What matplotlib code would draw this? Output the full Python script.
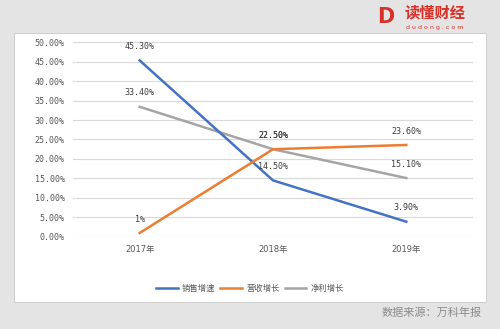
import matplotlib
matplotlib.use("Agg")
import matplotlib.pyplot as plt
from matplotlib.patches import Rectangle

plt.rcParams['font.family'] = ['DejaVu Sans', 'Noto Sans CJK SC']

years = ["2017年", "2018年", "2019年"]
sales = [45.3, 14.5, 3.9]
revenue = [1.0, 22.5, 23.6]
profit = [33.4, 22.5, 15.1]
sales_lbl = ["45.30%", "14.50%", "3.90%"]
revenue_lbl = ["1%", "22.50%", "23.60%"]
profit_lbl = ["33.40%", "22.50%", "15.10%"]
yticks = [0, 5, 10, 15, 20, 25, 30, 35, 40, 45, 50]
ytick_lbl = ["0.00%", "5.00%", "10.00%", "15.00%", "20.00%", "25.00%",
             "30.00%", "35.00%", "40.00%", "45.00%", "50.00%"]
names = ["销售增速", "营收增长", "净利增长"]

fig = plt.figure(figsize=(5, 3.29), dpi=100)
fig.patch.set_facecolor("#e4e4e4")
panel = Rectangle((14/500, 1-302/329), 472/500, 269/329,
                  transform=fig.transFigure, facecolor="white",
                  edgecolor="#c8c8c8", lw=0.6, zorder=-5)
fig.patches.append(panel)

ax = fig.add_axes([0.146, 0.280, 0.80, 0.592])
ax.set_zorder(1)
ax.set_facecolor("none")
x = list(range(len(years)))
c_blue, c_orange, c_gray = "#4472C4", "#ED7D31", "#A5A5A5"
ax.plot(x, sales, color=c_blue, lw=1.8, label=names[0], zorder=3)
ax.plot(x, revenue, color=c_orange, lw=1.8, label=names[1], zorder=3)
ax.plot(x, profit, color=c_gray, lw=1.8, label=names[2], zorder=2)

ax.set_xlim(-0.5, 2.5)
ax.set_ylim(0, 50)
ax.set_yticks(yticks)
ax.set_yticklabels(ytick_lbl, fontsize=6, color="#595959", family="DejaVu Sans Mono")
ax.set_xticks(x)
ax.set_xticklabels(years, fontsize=6, color="#595959", family=["DejaVu Sans", "Noto Sans CJK SC"])
ax.tick_params(length=0, pad=6)
ax.grid(axis="y", color="#d9d9d9", lw=0.8)
for s in ax.spines.values():
    s.set_visible(False)

tk = dict(fontsize=6, color="#404040", family="DejaVu Sans Mono", ha="center", va="center",
          textcoords="offset points", xytext=(0, 10))
for vals, lbls in ((sales, sales_lbl), (revenue, revenue_lbl), (profit, profit_lbl)):
    for i, (v, l) in enumerate(zip(vals, lbls)):
        ax.annotate(l, (i, v), **tk)

leg = fig.legend(loc="center", bbox_to_anchor=(0.5, 1-288/329), ncol=3, frameon=False,
                 prop={"family": "Noto Sans CJK SC", "size": 6}, handlelength=2.6,
                 columnspacing=0.6, handletextpad=0.5)
for t in leg.get_texts():
    t.set_color("#595959")

# logo
fig.text(386/500, 1-17/329, "D", fontsize=15, fontweight="bold", color="#d7312a",
         ha="center", va="center", family="DejaVu Sans")
fig.text(435/500, 1-12/329, "读懂财经", fontsize=11, fontweight="bold", color="#d7312a",
         ha="center", va="center", family="Noto Sans CJK SC")
fig.text(435/500, 1-27/329, "d u d o n g . c o m", fontsize=4.5, color="#d7312a",
         ha="center", va="center", family="DejaVu Sans")
# source
fig.text(482/500, 1-313/329, "数据来源：万科年报", fontsize=8, color="#8c8c8c",
         ha="right", va="center", family="Noto Sans CJK SC")

fig.savefig("out.png", dpi=100, facecolor=fig.get_facecolor())
